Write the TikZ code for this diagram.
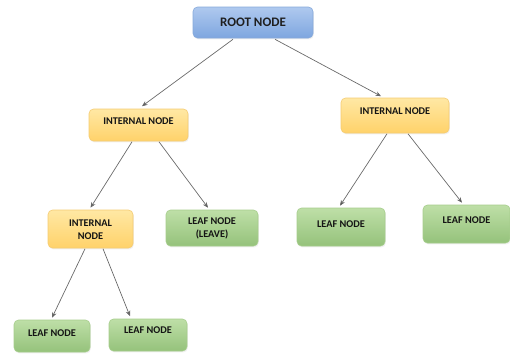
\documentclass[tikz,border=0pt]{standalone}
\usepackage{fontspec}
\setmainfont{Carlito}
\usetikzlibrary{arrows.meta,calc,shadows}
\definecolor{rootTop}{HTML}{AFC9EF}
\definecolor{rootBot}{HTML}{7EA6DF}
\definecolor{rootLine}{HTML}{86A9DA}
\definecolor{intTop}{HTML}{FFE8A4}
\definecolor{intBot}{HTML}{FFD26A}
\definecolor{intLine}{HTML}{F4CB72}
\definecolor{leafTop}{HTML}{BEDFA7}
\definecolor{leafBot}{HTML}{95C27B}
\definecolor{leafLine}{HTML}{A6CD8C}
\definecolor{edgeGrey}{HTML}{6A6A6A}
\tikzset{
  box/.style={rectangle, rounded corners=4.5pt, line width=0.6pt, inner sep=0pt,
    drop shadow={opacity=0.12, shadow xshift=0.8pt, shadow yshift=-1.4pt}},
  rootbox/.style={box, draw=rootLine, top color=rootTop, bottom color=rootBot},
  intbox/.style={box, draw=intLine, top color=intTop, bottom color=intBot},
  leafbox/.style={box, draw=leafLine, top color=leafTop, bottom color=leafBot},
  lbl/.style={font=\fontsize{10.3}{13}\selectfont\bfseries, text=black!92, align=center, inner sep=0pt},
  rootlbl/.style={font=\fontsize{13}{15}\selectfont\bfseries, text=black!88, inner sep=0pt},
  edge/.style={draw=edgeGrey, line width=0.7pt, -{Stealth[length=5.5pt,width=4.5pt,fill=black]}}
}
\begin{document}
\begin{tikzpicture}[x=1pt,y=-1pt]
\useasboundingbox (0,0) rectangle (510,354);
% boxes
\node[rootbox, minimum width=120pt, minimum height=31pt] (r)   at (253,22.5) {};
\node[intbox,  minimum width=99pt,  minimum height=32pt] (iL)  at (138.5,125) {};
\node[intbox,  minimum width=108pt, minimum height=35pt] (iR)  at (395,115.5) {};
\node[intbox,  minimum width=85pt,  minimum height=38pt] (iLL) at (90.5,229) {};
\node[leafbox, minimum width=92pt,  minimum height=36pt] (lv)  at (212,228) {};
\node[leafbox, minimum width=88pt,  minimum height=38pt] (l1)  at (341,227) {};
\node[leafbox, minimum width=87pt,  minimum height=38pt] (l2)  at (466.5,224) {};
\node[leafbox, minimum width=76pt,  minimum height=32pt] (b1)  at (52,336) {};
\node[leafbox, minimum width=78pt,  minimum height=32pt] (b2)  at (148,335) {};
% labels
\node[rootlbl] at (r.center) {ROOT NODE};
\node[lbl] at ($(iL.center)+(0,-4)$) {INTERNAL NODE};
\node[lbl] at ($(iR.center)+(0,-4.5)$) {INTERNAL NODE};
\node[lbl] at ($(iLL.center)+(0,0.5)$) {INTERNAL\\NODE};
\node[lbl] at (lv.center) {LEAF NODE\\(LEAVE)};
\node[lbl] at ($(l1.center)+(0,-3)$) {LEAF NODE};
\node[lbl] at ($(l2.center)+(0,-4)$) {LEAF NODE};
\node[lbl] at ($(b1.center)+(0,-3)$) {LEAF NODE};
\node[lbl] at ($(b2.center)+(0,-5)$) {LEAF NODE};
% connectors
\draw[edge] ($(r.south)+(-20,1)$) -- ($(iL.north)+(3.5,-2.5)$);
\draw[edge] ($(r.south)+(22,1)$) -- ($(iR.north)+(-14,-1.5)$);
\draw[edge] ($(iL.south)+(-6.5,0.5)$) -- ($(iLL.north)+(0,-2)$);
\draw[edge] ($(iL.south)+(20.5,0.5)$) -- ($(lv.north)+(-4,-2)$);
\draw[edge] ($(iR.south)+(-8,0.5)$) -- ($(l1.north)+(-1,-2)$);
\draw[edge] ($(iR.south)+(13,0.5)$) -- ($(l2.north)+(-4.5,-2)$);
\draw[edge] ($(iLL.south)+(-5.5,0.5)$) -- ($(b1.north)+(0,-2)$);
\draw[edge] ($(iLL.south)+(12.5,0.5)$) -- ($(b2.north)+(-18,-2.5)$);
\end{tikzpicture}
\end{document}
